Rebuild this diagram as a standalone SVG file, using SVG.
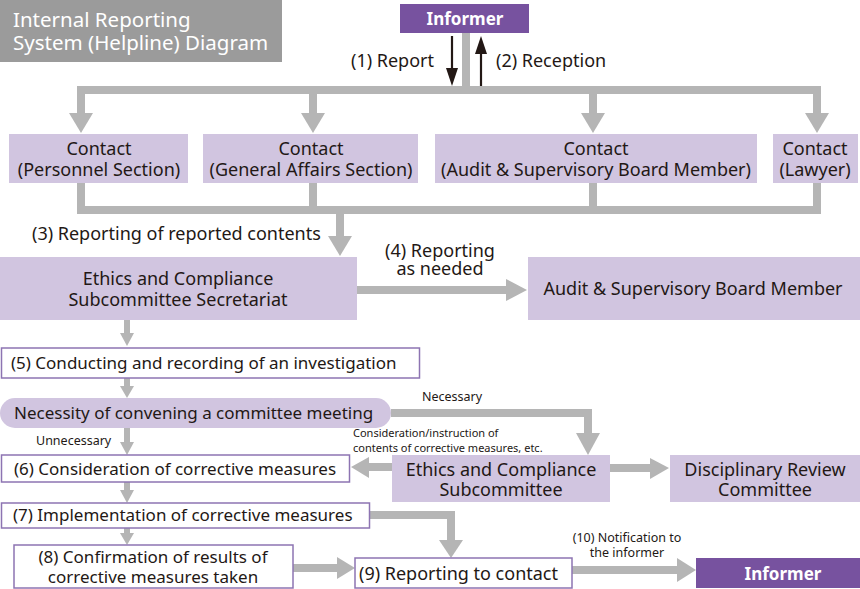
<svg xmlns="http://www.w3.org/2000/svg" width="860" height="589" viewBox="0 0 860 589">
<style>
text{font-family:"Noto Sans","Open Sans","DejaVu Sans",sans-serif;fill:#231815}
.t18{font-size:18px}
.t17{font-size:17px}
.t12{font-size:12.5px}
.t11{font-size:11px}
.c{text-anchor:middle}
.lp{fill:#d1c5e0}
.dp{fill:#77529f}
.wb{fill:#fff;stroke:#8d74b2;stroke-width:1.5}
.sh{fill:none;stroke:#b5b5b5;stroke-width:8;stroke-linejoin:miter}
.ss{fill:none;stroke:#b5b5b5;stroke-width:6}
.hd{fill:#b5b5b5}
.wt{fill:#fff}
</style>
<rect width="860" height="589" fill="#fff"/>
<g id="title">
<rect x="0" y="0" width="282" height="62" fill="#9b9b9b"/>
<text font-size="20.5" class="wt"><tspan x="13" y="27">Internal Reporting</tspan><tspan x="13" y="50">System (Helpline) Diagram</tspan></text>
</g>
<g id="connectors">
<path class="sh" d="M466,33 V90"/>
<path class="sh" d="M81,114 V90 H817 V114"/>
<path class="sh" d="M313,90 V114"/>
<path class="sh" d="M593,90 V114"/>
<polygon class="hd" points="69,113 93,113 81,133"/>
<polygon class="hd" points="301,113 325,113 313,133"/>
<polygon class="hd" points="581,113 605,113 593,133"/>
<polygon class="hd" points="805,113 829,113 817,133"/>
<path d="M452,36 V72" stroke="#231815" stroke-width="2.2" fill="none"/>
<polygon points="446,68 458,68 452,86" fill="#231815"/>
<path d="M481,50 V86" stroke="#231815" stroke-width="2.2" fill="none"/>
<polygon points="475,54 487,54 481,36" fill="#231815"/>
<path class="sh" d="M81,183 V210 H817 V183"/>
<path class="sh" d="M313,183 V210"/>
<path class="sh" d="M593,183 V210"/>
<path class="sh" d="M340,210 V237"/>
<polygon class="hd" points="328,236 352,236 340,256"/>
<path class="sh" d="M357,290 H508"/>
<polygon class="hd" points="506,279 506,301 527,290"/>
<path class="ss" d="M127,320 V334"/>
<polygon class="hd" points="120,333 134,333 127,346"/>
<path class="ss" d="M127,378 V388"/>
<polygon class="hd" points="120,386 134,386 127,398"/>
<path class="ss" d="M127,428 V443"/>
<polygon class="hd" points="120,442 134,442 127,455"/>
<path class="ss" d="M127,482 V491"/>
<polygon class="hd" points="120,490 134,490 127,503"/>
<path class="ss" d="M127,528 V534"/>
<polygon class="hd" points="120,533 134,533 127,545"/>
<path class="sh" d="M391,413 H588 V434"/>
<polygon class="hd" points="576,433 600,433 588,455"/>
<path class="sh" d="M392,467 H367"/>
<polygon class="hd" points="369,457 369,478 351,467"/>
<path class="sh" d="M610,468 H651"/>
<polygon class="hd" points="650,458 650,479 669,468"/>
<path class="sh" d="M370,515 H451 V541"/>
<polygon class="hd" points="439,540 463,540 451,558"/>
<path class="sh" d="M293,568 H338"/>
<polygon class="hd" points="337,557 337,579 355,568"/>
<path class="sh" d="M572,570 H678"/>
<polygon class="hd" points="677,558 677,582 696,570"/>
</g>
<g id="labels">
<text x="351" y="67" class="t18">(1) Report</text>
<text x="496" y="67" class="t18">(2) Reception</text>
<text x="32" y="240" class="t18">(3) Reporting of reported contents</text>
<text class="t18 c"><tspan x="440" y="257">(4) Reporting</tspan><tspan x="440" y="275">as needed</tspan></text>
<text x="452" y="401" class="t12 c">Necessary</text>
<text x="36" y="445" class="t12">Unnecessary</text>
<text class="t11"><tspan x="353" y="437">Consideration/instruction of</tspan><tspan x="353" y="452">contents of corrective measures, etc.</tspan></text>
<text class="t12 c"><tspan x="627" y="542">(10) Notification to</tspan><tspan x="627" y="557">the informer</tspan></text>
</g>
<g id="informer-top">
<rect x="400" y="4" width="129" height="29" class="dp"/>
<text x="465" y="25" font-size="17" class="c wt" font-weight="bold">Informer</text>
</g>
<g id="contact-personnel">
<rect x="9" y="134" width="179" height="49" class="lp"/>
<text class="t18 c"><tspan x="99" y="155">Contact</tspan><tspan x="99" y="176">(Personnel Section)</tspan></text>
</g>
<g id="contact-general">
<rect x="203" y="134" width="215" height="49" class="lp"/>
<text class="t18 c"><tspan x="311" y="155">Contact</tspan><tspan x="311" y="176">(General Affairs Section)</tspan></text>
</g>
<g id="contact-audit">
<rect x="435" y="134" width="322" height="49" class="lp"/>
<text class="t18 c"><tspan x="596" y="155">Contact</tspan><tspan x="596" y="176">(Audit &amp; Supervisory Board Member)</tspan></text>
</g>
<g id="contact-lawyer">
<rect x="773" y="134" width="85" height="49" class="lp"/>
<text class="t18 c"><tspan x="815" y="155">Contact</tspan><tspan x="815" y="176">(Lawyer)</tspan></text>
</g>
<g id="secretariat">
<rect x="0" y="257" width="357" height="63" class="lp"/>
<text class="t18 c"><tspan x="178" y="285">Ethics and Compliance</tspan><tspan x="178" y="306">Subcommittee Secretariat</tspan></text>
</g>
<g id="audit-board">
<rect x="528" y="257" width="332" height="63" class="lp"/>
<text x="693" y="295" class="t18 c">Audit &amp; Supervisory Board Member</text>
</g>
<g id="step5">
<rect x="1.5" y="348" width="418" height="30" class="wb"/>
<text x="11" y="369" class="t17">(5) Conducting and recording of an investigation</text>
</g>
<g id="necessity">
<rect x="0" y="398" width="391" height="30" rx="15" class="lp"/>
<text x="14" y="419" class="t17">Necessity of convening a committee meeting</text>
</g>
<g id="step6">
<rect x="1.5" y="455" width="348" height="27" class="wb"/>
<text x="14" y="475" class="t17">(6) Consideration of corrective measures</text>
</g>
<g id="subcommittee">
<rect x="392" y="455" width="218" height="47" class="lp"/>
<text class="t18 c"><tspan x="501" y="476">Ethics and Compliance</tspan><tspan x="501" y="496">Subcommittee</tspan></text>
</g>
<g id="disciplinary">
<rect x="670" y="455" width="190" height="47" class="lp"/>
<text class="t18 c"><tspan x="765" y="476">Disciplinary Review</tspan><tspan x="765" y="496">Committee</tspan></text>
</g>
<g id="step7">
<rect x="1.5" y="503" width="368" height="25" class="wb"/>
<text x="13" y="521" class="t17">(7) Implementation of corrective measures</text>
</g>
<g id="step8">
<rect x="14" y="545" width="279" height="43" class="wb"/>
<text class="t17 c"><tspan x="153" y="563">(8) Confirmation of results of</tspan><tspan x="153" y="583">corrective measures taken</tspan></text>
</g>
<g id="step9">
<rect x="355" y="558" width="217" height="30" class="wb"/>
<text x="359" y="580" class="t18">(9) Reporting to contact</text>
</g>
<g id="informer-bottom">
<rect x="696" y="558" width="164" height="30" class="dp"/>
<text x="783" y="580" font-size="17" class="c wt" font-weight="bold">Informer</text>
</g>
</svg>
